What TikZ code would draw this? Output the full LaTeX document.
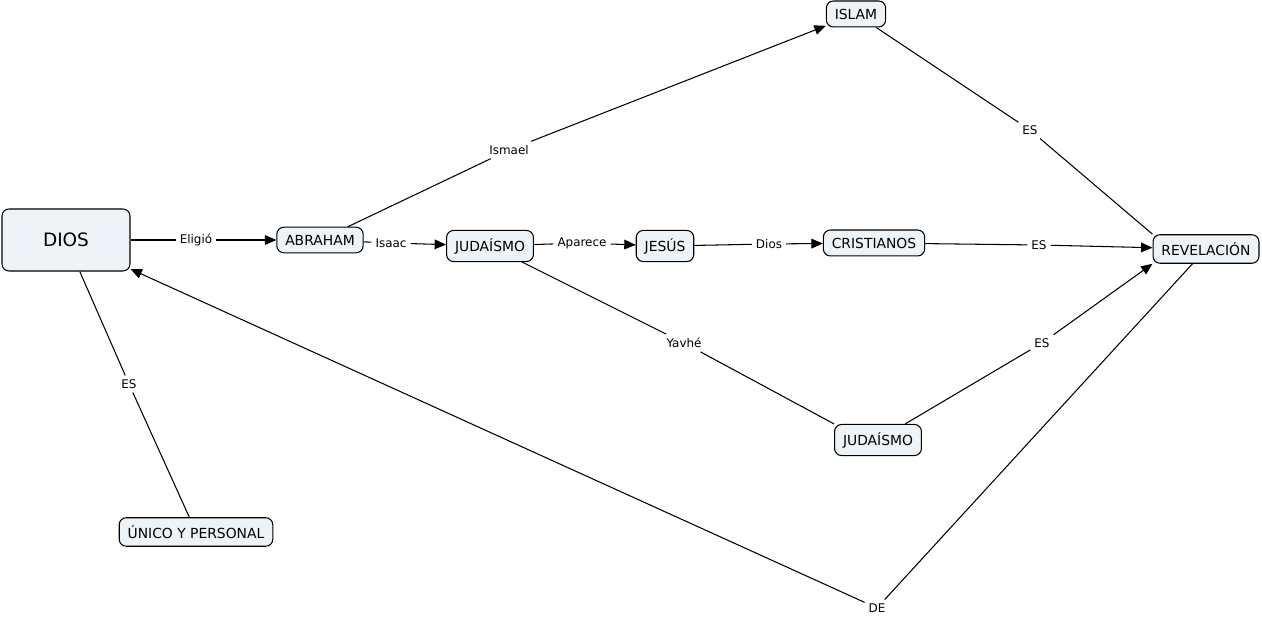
\documentclass[tikz,border=0pt]{standalone}
\usepackage{fontspec}
\setmainfont{DejaVu Sans}
\usetikzlibrary{arrows.meta}
\definecolor{conceptfill}{RGB}{237,243,246}
\begin{document}
\begin{tikzpicture}[x=0.02cm, y=-0.02cm, line width=0.6pt,
    concept/.style={draw, fill=conceptfill, rounded corners=4pt, inner xsep=4.8pt, inner ysep=4.4pt, font=\fontsize{7.9}{9}\selectfont},
    linkword/.style={inner sep=2pt, font=\fontsize{6.8}{8}\selectfont},
    tip/.style={-{Triangle[length=6.5pt, width=5.5pt]}}]
      \useasboundingbox (0, 0) rectangle (1262, 617);
      \node (dios) [concept, minimum width=2.56cm, minimum height=1.24cm, font=\fontsize{10.5}{12}\selectfont] at (66, 240) {DIOS};
      \node (abraham) [concept] at (320, 240) {ABRAHAM};
      \node (judaismo) [concept] at (490, 246) {JUDAÍSMO};
      \node (jesus) [concept] at (665, 246) {JESÚS};
      \node (cristianos) [concept] at (874, 243) {CRISTIANOS};
      \node (revelacion) [concept] at (1206, 249) {REVELACIÓN};
      \node (islam) [concept] at (856, 14) {ISLAM};
      \node (judaismob) [concept] at (878, 440) {JUDAÍSMO};
      \node (unico) [concept] at (196, 532) {ÚNICO Y PERSONAL};
      \node (eligio) [linkword] at (196, 240) {Eligió};
      \node (isaac) [linkword] at (391, 243) {Isaac};
      \node (ismael) [linkword] at (509, 150) {Ismael};
      \node (aparece) [linkword] at (582, 243) {Aparece};
      \node (dioslink) [linkword] at (769, 244) {Dios};
      \node (escris) [linkword] at (1039, 245) {ES};
      \node (esislam) [linkword] at (1030, 130) {ES};
      \node (yavhe) [linkword] at (684, 343) {Yavhé};
      \node (esjud) [linkword] at (1042, 343) {ES};
      \node (esunico) [linkword] at (129, 384) {ES};
      \node (de) [linkword] at (877, 608) {DE};
      \draw (dios) edge (eligio)
            (abraham) edge (isaac)
            (abraham) edge (ismael)
            (judaismo) edge (aparece)
            (jesus) edge (dioslink)
            (cristianos) edge (escris)
            (islam) edge (esislam)
            (esislam) edge (revelacion.north west)
            (judaismo) edge (yavhe)
            (yavhe) edge (judaismob.north west)
            (judaismob) edge (esjud)
            (revelacion) edge (de)
            (unico) edge (esunico)
            (esunico) edge (dios);
      \draw[tip] (eligio) edge (abraham)
                 (isaac) edge (judaismo)
                 (ismael) edge (islam)
                 (aparece) edge (jesus)
                 (dioslink) edge (cristianos)
                 (escris) edge (revelacion)
                 (esjud) edge (revelacion.south west)
                 (de) edge (dios);
\end{tikzpicture}
\end{document}
